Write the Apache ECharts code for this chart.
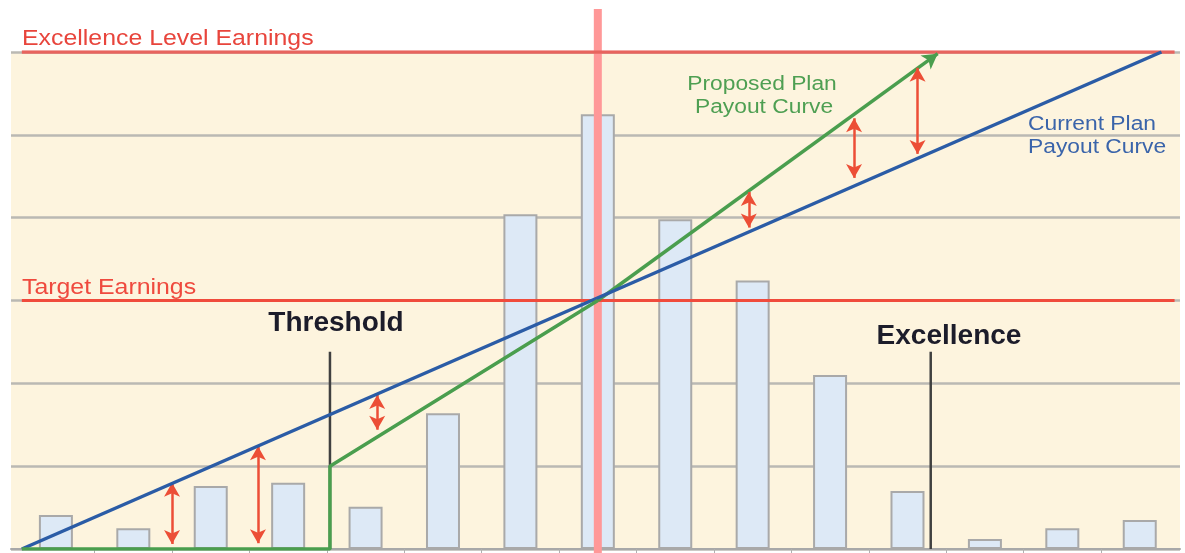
<!DOCTYPE html>
<html>
<head>
<meta charset="utf-8">
<script src="https://cdn.jsdelivr.net/npm/echarts@6/dist/echarts.min.js"></script>
<style>
  html, body { margin: 0; padding: 0; background: #fff; }
  #main { width: 1185px; height: 553px; }
</style>
</head>
<body>
<div id="main"></div>
<script>
// earnings distribution (bars), one per band
var bandCenters = [0, 1, 2, 3, 4, 5, 6, 7, 8, 9, 10, 11, 12, 13, 14];
var bandCounts = [0.41, 0.25, 0.76, 0.80, 0.51, 1.64, 4.04, 5.25, 3.98, 3.24, 2.10, 0.70, 0.12, 0.25, 0.35];
// band boundaries (axis ticks)
var bandEdges = [0.5, 1.5, 2.5, 3.5, 4.5, 5.5, 6.5, 7.5, 8.5, 9.5, 10.5, 11.5, 12.5, 13.5];

// payout curves [x, payout]
var currentPlan = [[-0.44, 0], [14.28, 6]];
var proposedPlan = [[-0.44, 0], [3.54, 0], [3.54, 1], [7, 3]];
var proposedEnd = [11.39, 5.98];

// levels
var targetEarnings = 3;
var excellenceEarnings = 6;
var levelFrom = -0.44, levelTo = 14.45;
var medianX = 7, medianSpan = [-0.05, 6.52];
var thresholdX = 3.54, excellenceX = 11.30, markerTop = 2.38;

// red gap arrows [x, from, to]
var gapArrows = [
  [1.50, 0.80, 0.06],
  [2.61, 1.24, 0.07],
  [4.15, 1.86, 1.44],
  [8.95, 4.31, 3.88],
  [10.31, 5.20, 4.48],
  [11.13, 5.81, 4.77]
];

var barData = bandCenters.map(function (c, i) { return [c, bandCounts[i]]; });
var arrowData = gapArrows.map(function (a) {
  return [{ coord: [a[0], a[1]] }, { coord: [a[0], a[2]] }];
});

var sans = '"Liberation Sans", Arial, sans-serif';

var option = {
  animation: false,
  grid: {
    left: 11, right: 5, top: 52, bottom: 4,
    show: true, backgroundColor: '#fdf4de', borderWidth: 0
  },
  xAxis: {
    type: 'value', min: -0.58, max: 14.52,
    axisLine: { show: true, lineStyle: { color: '#a8a8a8', width: 2 } },
    axisTick: { show: true, customValues: bandEdges, length: 4, lineStyle: { color: '#b0b0b0', width: 1 } },
    axisLabel: { show: false },
    splitLine: { show: false }
  },
  yAxis: {
    type: 'value', min: 0, max: 6, interval: 1,
    axisLine: { show: false },
    axisTick: { show: false },
    axisLabel: { show: false },
    splitLine: { show: true, lineStyle: { color: '#bab9b3', width: 2.5 } }
  },
  series: [
    {
      type: 'bar', data: barData, barWidth: 34, z: 2,
      itemStyle: { color: '#dde9f6', borderColor: '#a9a9a9', borderWidth: 2 }
    },
    {
      type: 'line', data: [[medianX, medianSpan[0]], [medianX, medianSpan[1]]],
      symbol: 'none', clip: false, z: 3,
      lineStyle: { color: '#ff9898', width: 8 }
    },
    {
      type: 'line', data: [[levelFrom, excellenceEarnings], [levelTo, excellenceEarnings]],
      symbol: 'none', z: 4,
      lineStyle: { color: '#e8645e', width: 3.5 }
    },
    {
      type: 'line', data: [[levelFrom, targetEarnings], [levelTo, targetEarnings]],
      symbol: 'none', z: 4,
      lineStyle: { color: '#f04b3c', width: 3 }
    },
    {
      type: 'line', data: [[thresholdX, 0], [thresholdX, markerTop]],
      symbol: 'none', z: 4,
      lineStyle: { color: '#404040', width: 2.5 }
    },
    {
      type: 'line', data: [[excellenceX, 0], [excellenceX, markerTop]],
      symbol: 'none', z: 4,
      lineStyle: { color: '#404040', width: 2.5 }
    },
    {
      type: 'line', data: currentPlan, symbol: 'none', z: 6,
      lineStyle: { color: '#2b5ca6', width: 3.5 }
    },
    {
      type: 'line', data: proposedPlan, symbol: 'none', z: 6,
      lineStyle: { color: '#4a9e4e', width: 3.5 },
      markLine: {
        silent: true, animation: false,
        symbol: ['none', 'arrow'], symbolSize: [13, 15],
        label: { show: false },
        lineStyle: { color: '#4a9e4e', width: 3.5, type: 'solid' },
        emphasis: { disabled: true },
        data: [[{ coord: proposedPlan[proposedPlan.length - 1] }, { coord: proposedEnd }]]
      }
    },
    {
      type: 'line', data: [], z: 7,
      markLine: {
        silent: true, animation: false,
        symbol: ['arrow', 'arrow'], symbolSize: [12, 14],
        label: { show: false },
        lineStyle: { color: '#ec4e36', width: 2.5, type: 'solid' },
        emphasis: { disabled: true },
        data: arrowData
      }
    }
  ],
  graphic: [
    { type: 'text', x: 22, y: 39, scaleX: 1.13, z: 10,
      style: { text: 'Excellence Level Earnings', font: '22px ' + sans, fill: '#e8453c', align: 'left', verticalAlign: 'middle' } },
    { type: 'text', x: 22, y: 288, scaleX: 1.13, z: 10,
      style: { text: 'Target Earnings', font: '22px ' + sans, fill: '#ef4a3e', align: 'left', verticalAlign: 'middle' } },
    { type: 'text', x: 336, y: 323, z: 10,
      style: { text: 'Threshold', font: 'bold 28px ' + sans, fill: '#1c1c2a', align: 'center', verticalAlign: 'middle' } },
    { type: 'text', x: 949, y: 336, z: 10,
      style: { text: 'Excellence', font: 'bold 28px ' + sans, fill: '#1c1c2a', align: 'center', verticalAlign: 'middle' } },
    { type: 'text', x: 762, y: 84, scaleX: 1.14, z: 10,
      style: { text: 'Proposed Plan', font: '20px ' + sans, fill: '#4e9f52', align: 'center', verticalAlign: 'middle' } },
    { type: 'text', x: 764, y: 107.5, scaleX: 1.14, z: 10,
      style: { text: 'Payout Curve', font: '20px ' + sans, fill: '#4e9f52', align: 'center', verticalAlign: 'middle' } },
    { type: 'text', x: 1028, y: 124, scaleX: 1.14, z: 10,
      style: { text: 'Current Plan', font: '20px ' + sans, fill: '#3a64aa', align: 'left', verticalAlign: 'middle' } },
    { type: 'text', x: 1028, y: 147, scaleX: 1.14, z: 10,
      style: { text: 'Payout Curve', font: '20px ' + sans, fill: '#3a64aa', align: 'left', verticalAlign: 'middle' } }
  ]
};

var chart = echarts.init(document.getElementById('main'));
chart.setOption(option);

window.addEventListener('resize', function () {
  chart.resize();
});
</script>
</body>
</html>
